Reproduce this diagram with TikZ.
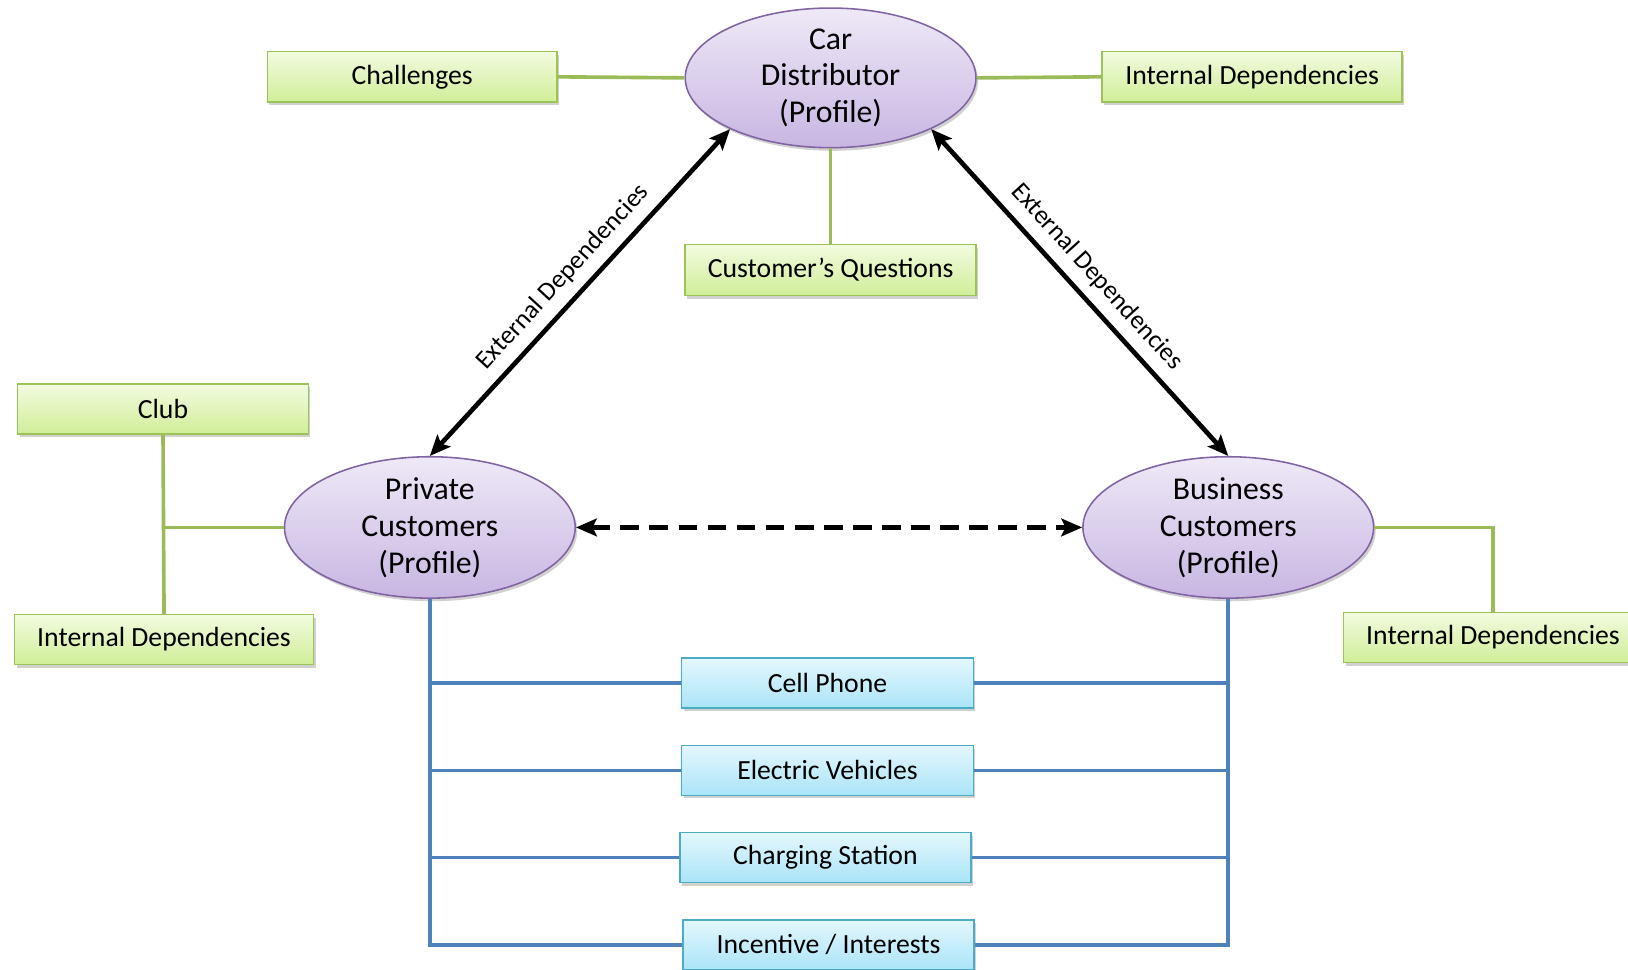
\documentclass[tikz,border=0pt]{standalone}
\usepackage{fontspec}
\setmainfont{Carlito}
\usetikzlibrary{arrows.meta,shadows,shapes.geometric}
\definecolor{gborder}{RGB}{155,195,85}
\definecolor{gtop}{RGB}{242,251,224}
\definecolor{gbot}{RGB}{208,238,152}
\definecolor{pborder}{RGB}{128,100,162}
\definecolor{ptop}{RGB}{238,233,247}
\definecolor{pbot}{RGB}{200,182,226}
\definecolor{bborder}{RGB}{75,172,198}
\definecolor{btop}{RGB}{228,247,253}
\definecolor{bbot}{RGB}{170,228,248}
\definecolor{bline}{RGB}{79,129,189}
\definecolor{gline}{RGB}{155,187,89}
\begin{document}
\begin{tikzpicture}[x=1pt,y=-1pt,
  shad/.style={drop shadow={shadow xshift=2pt,shadow yshift=-3pt,opacity=.3,fill=black!60}},
  gbox/.style={draw=gborder,line width=1.5pt,top color=gtop,bottom color=gbot,
    minimum width=279pt,minimum height=49pt,inner sep=0pt,
    font=\fontsize{26.7}{32}\selectfont,shad},
  bbox/.style={draw=bborder,line width=1.5pt,top color=btop,bottom color=bbot,
    minimum width=281pt,minimum height=48pt,inner sep=0pt,
    font=\fontsize{26.7}{32}\selectfont,shad},
  prof/.style={ellipse,draw=pborder,line width=1.5pt,top color=ptop,bottom color=pbot,
    minimum width=280pt,minimum height=134pt,inner sep=0pt,align=center,
    font=\fontsize{30.6}{35.5}\selectfont,shad},
  gl/.style={draw=gline,line width=3.5pt},
  bl/.style={draw=bline,line width=3.5pt},
  ext/.style={line width=4.5pt,{Stealth[length=20pt,width=17pt,inset=4pt]}-{Stealth[length=20pt,width=17pt,inset=4pt]}},
  lab/.style={font=\fontsize{25}{30}\selectfont,sloped,above=6pt}
]
\useasboundingbox (0,0) rectangle (1568,934);

% ellipses
\node[prof] (car) at (800,75) {Car\\Distributor\\(Profile)};
\node[prof] (priv) at (414,508) {Private\\Customers\\(Profile)};
\node[prof] (bus) at (1183,508) {Business\\Customers\\(Profile)};

% green boxes
\node[gbox] (chal) at (397,74) {Challenges};
\node[gbox,minimum width=289pt] (idtop) at (1206,74) {Internal Dependencies};
\node[gbox,minimum width=280pt] (cq) at (800,260) {Customer’s Questions};
\node[gbox,minimum width=280pt,minimum height=48pt] (club) at (157,394) {Club};
\node[gbox,minimum width=288pt,minimum height=48pt] (idleft) at (158,616) {Internal Dependencies};
\node[gbox,minimum width=288pt,minimum height=48pt] (idright) at (1438,614) {Internal Dependencies};

% blue boxes
\node[bbox] (cell) at (797,658) {Cell Phone};
\node[bbox] (ev) at (797,742) {Electric Vehicles};
\node[bbox,minimum width=280pt] (cs) at (795,826) {Charging Station};
\node[bbox,minimum width=280pt] (inc) at (798,910) {Incentive / Interests};

% green connectors
\begin{scope}[on background layer/.try]
\end{scope}
\draw[gl] (chal.east) -- (car.west);
\draw[gl] (car.east) -- (idtop.west);
\draw[gl] (car.south) -- (cq.north);
\draw[gl] (club.south) -- (idleft.north);
\draw[gl] (priv.west) -- (club.south |- priv.west);
\draw[gl] (bus.east) -| (idright.north);

% blue connectors
\draw[bl] (priv.south) |- (inc.west);
\draw[bl] (priv.south |- cell.west) -- (cell.west);
\draw[bl] (priv.south |- ev.west) -- (ev.west);
\draw[bl] (priv.south |- cs.west) -- (cs.west);
\draw[bl] (bus.south) |- (inc.east);
\draw[bl] (bus.south |- cell.east) -- (cell.east);
\draw[bl] (bus.south |- ev.east) -- (ev.east);
\draw[bl] (bus.south |- cs.east) -- (cs.east);

% external dependencies
\draw[ext] (priv.north) -- node[lab] {External Dependencies} (car.207);
\draw[ext] (car.-27) -- node[lab] {External Dependencies} (bus.north);
\draw[ext,dash pattern=on 18pt off 10pt] (priv.east) -- (bus.west);
\end{tikzpicture}
\end{document}
